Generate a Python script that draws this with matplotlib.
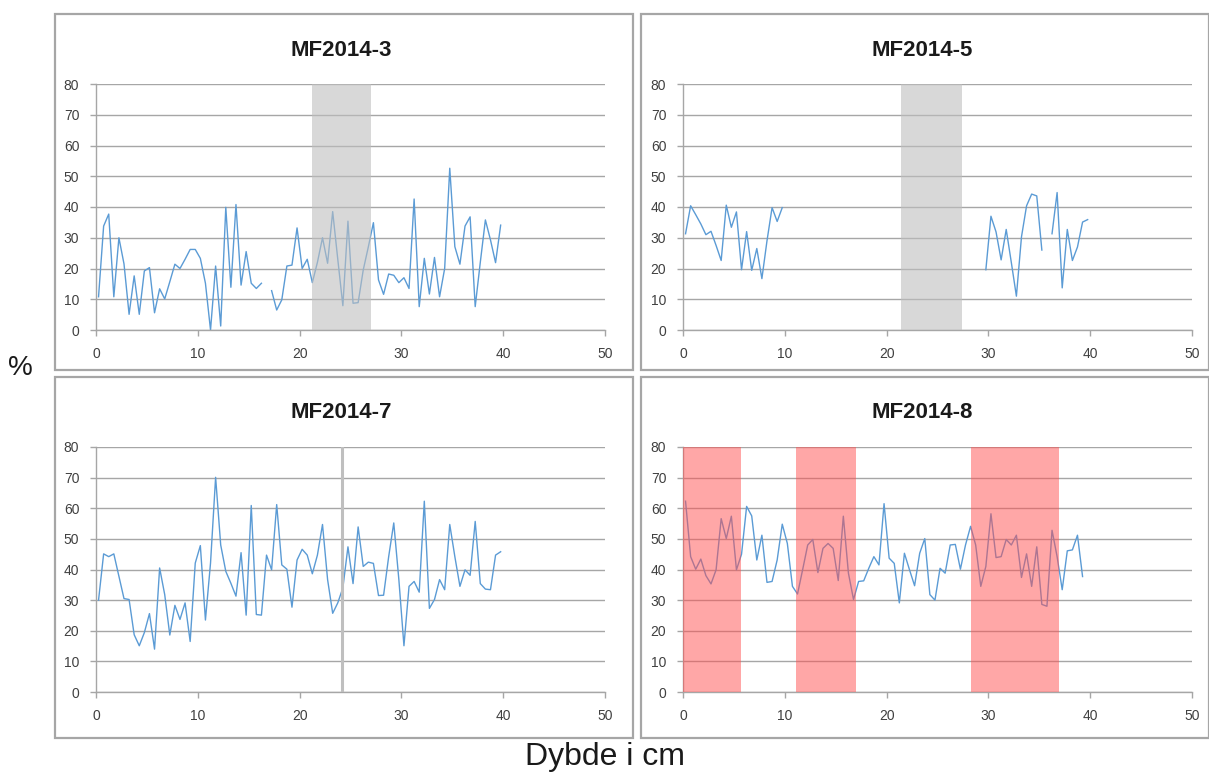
import numpy as np
import matplotlib
matplotlib.use("Agg")
import matplotlib.pyplot as plt
from matplotlib.patches import Rectangle

plt.rcParams['font.family'] = ['Liberation Sans Narrow', 'Liberation Sans', 'DejaVu Sans']

# depth samples every 0.5 cm (cm)
depth = np.arange(0.25, 40, 0.5)

titles = ['MF2014-3', 'MF2014-5', 'MF2014-7', 'MF2014-8']

mf3 = [10.8, 33.8, 37.7, 10.8, 30, 21.5, 5.1, 17.6, 5.1, 19.2,
       20.3, 5.6, 13.4, 10.1, 15.7, 21.4, 20, 23, 26.2, 26.2,
       23.3, 15.2, 0, 20.8, 1.3, 39.9, 13.9, 40.8, 14.6, 25.5,
       15.2, 13.5, 15.2, None, 12.8, 6.5, 9.8, 20.8, 21.1, 33.2,
       20, 23, 15.4, 22, 30, 21.7, 38.5, 23, 7.9, 35.4,
       8.7, 8.9, 19.5, 27, 34.9, 16.3, 11.6, 18.2, 17.8, 15.4,
       17, 13.5, 42.6, 7.6, 23.3, 11.7, 23.6, 10.8, 20, 52.6,
       27.1, 21.4, 33.8, 36.8, 7.6, 22, 35.8, 29.3, 21.9, 34.1]

mf5 = [31.3, 40.4, 37.5, 34.5, 31, 32.1, 27.5, 22.6, 40.6, 33.4,
       38.4, 19.6, 32, 19.4, 26.5, 16.7, 29, 39.8, 35.3, 39.8] + [None] * 39 + \
      [19.6, 37, 31.9, 22.8, 32.7, 22, 11, 30.3, 40.4, 44.2,
       43.6, 26, None, 31.3, 44.7, 13.7, 32.7, 22.6, 27, 35.1, 35.9]

mf7 = [30, 45.1, 44.2, 45.1, 37.8, 30.5, 30.2, 18.7, 15.1, 19.4,
       25.6, 14, 40.5, 31.8, 18.6, 28.3, 23.7, 29.1, 16.5, 42.1,
       47.8, 23.5, 42.1, 70.1, 48, 39.4, 35.5, 31.3, 45.5, 25.1,
       60.9, 25.3, 25.1, 44.7, 39.9, 61.2, 41.5, 40.1, 27.7, 43.1,
       46.6, 44.7, 38.6, 44.7, 54.7, 36.7, 25.7, 29.1, 34, 47.4,
       35.4, 53.9, 41, 42.4, 42, 31.5, 31.6, 44.2, 55.2, 36.7,
       15.1, 34.5, 36.1, 32.6, 62.3, 27.3, 30.2, 36.7, 33.4, 54.7,
       44.2, 34.5, 39.9, 38.1, 55.7, 35.4, 33.6, 33.4, 44.7, 45.8]

mf8 = [62.3, 44.2, 40.1, 43.4, 38, 35.3, 39.9, 56.6, 50.1, 57.4,
       39.9, 45, 60.6, 57.5, 43.1, 51.2, 35.8, 36.1, 43.1, 54.8,
       48.5, 34.5, 32, 39.9, 48, 49.8, 39, 46.9, 48.5, 46.9,
       36.4, 57.4, 38.8, 30.2, 36.1, 36.3, 40.4, 44.2, 41.5, 61.5,
       43.7, 42, 29.1, 45.3, 39.9, 34.7, 45.3, 50.1, 31.8, 30,
       40.4, 38.8, 48, 48.2, 40.1, 48, 54.1, 48, 34.5, 41,
       58.2, 43.9, 44.2, 49.8, 48, 51.2, 37.4, 45.1, 34.5, 47.4,
       28.6, 28, 52.8, 44.2, 33.4, 46.1, 46.4, 51.2, 37.7]

series = [mf3, mf5, mf7, mf8]

# marked depth intervals (cm)
gray_spans = {0: [(21.2, 27.0)], 1: [(21.4, 27.4)]}
gray_lines = {2: [24.2]}
red_spans = {3: [(0, 5.7), (11.1, 17.0), (28.3, 36.9)]}

W, H = 1209, 778
fig = plt.figure(figsize=(W / 100, H / 100), dpi=100)

# panel frames and plot areas, in pixels (x0, y0_top, x1, y1_bottom)
frames = [(55, 14, 633, 370), (641, 14, 1209, 370),
          (55, 377, 633, 738), (641, 377, 1209, 738)]
areas = [(96, 84, 605, 330), (683, 84, 1192, 330),
         (96, 447, 605, 692), (683, 447, 1192, 692)]

for k in range(4):
    fx0, fy0, fx1, fy1 = frames[k]
    fig.patches.append(Rectangle((fx0 / W, 1 - fy1 / H), (fx1 - fx0) / W, (fy1 - fy0) / H,
                                 transform=fig.transFigure, fill=False,
                                 edgecolor='#A6A6A6', lw=1.6))
    x0, y0, x1, y1 = areas[k]
    ax = fig.add_axes([x0 / W, 1 - y1 / H, (x1 - x0) / W, (y1 - y0) / H])
    y = np.array([np.nan if v is None else v for v in series[k]], dtype=float)
    ax.plot(depth[:len(y)], y, color='#5B9BD5', lw=1.0, zorder=2)
    for a, b in gray_spans.get(k, []):
        ax.axvspan(a, b, color='#BFBFBF', alpha=0.6, lw=0, zorder=3)
    for a in gray_lines.get(k, []):
        ax.axvline(a, color='#BFBFBF', lw=2.2, zorder=3)
    for a, b in red_spans.get(k, []):
        ax.axvspan(a, b, color='#FF5050', alpha=0.5, lw=0, zorder=3)
    ax.set_xlim(0, 50)
    ax.set_ylim(0, 80)
    ax.set_xticks(range(0, 51, 10))
    ax.set_yticks(range(0, 81, 10))
    ax.grid(axis='y', color='#A6A6A6', lw=1.0, zorder=1)
    ax.set_axisbelow(True)
    for s in ['top', 'right']:
        ax.spines[s].set_visible(False)
    for s in ['left', 'bottom']:
        ax.spines[s].set_color('#A6A6A6')
        ax.spines[s].set_linewidth(1.0)
    ax.tick_params(colors='#A6A6A6', labelcolor='#404040', labelsize=10, length=4, width=1)
    ax.tick_params(axis='x', pad=8)
    ax.tick_params(axis='y', pad=8)
    fig.text((fx0 + fx1) / 2 / W - 0.002, 1 - (fy0 + 36) / H, titles[k],
             ha='center', va='center', fontsize=16, fontweight='bold', color='#1a1a1a')

fig.text(20 / W, 1 - 368 / H, '%', ha='center', va='center', fontsize=20, color='#1a1a1a')
fig.text(605 / W, 1 - 757 / H, 'Dybde i cm', ha='center', va='center', fontsize=23, color='#1a1a1a')

fig.savefig('out.png', dpi=100)
